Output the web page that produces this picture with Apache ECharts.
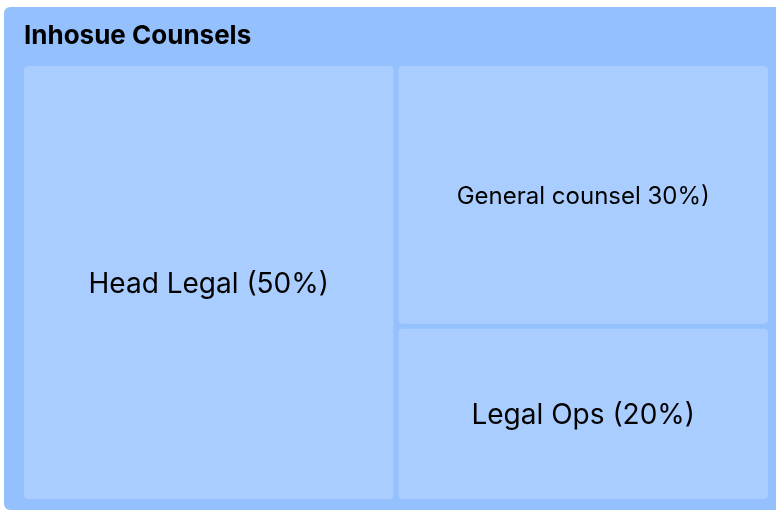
<!DOCTYPE html>
<html>
<head>
<meta charset="utf-8">
<script src="https://cdn.jsdelivr.net/npm/echarts@6/dist/echarts.min.js"></script>
<style>
  html, body { margin: 0; padding: 0; background: #fff; }
  #main { width: 776px; height: 512px; }
</style>
</head>
<body>
<div id="main"></div>
<script>
var groupName = 'Inhosue Counsels';
var roles = ['Head Legal (50%)', 'General counsel 30%)', 'Legal Ops (20%)'];
var shares = [50, 30, 20];
var labelSizes = [28, 24, 28];

var myChart = echarts.init(document.getElementById('main'));

var data = roles.map(function (r, i) {
    return {
        name: r,
        value: shares[i],
        itemStyle: { color: '#a9cdfe' },
        label: { fontSize: labelSizes[i] }
    };
});

var option = {
    backgroundColor: '#ffffff',
    color: ['#a9cdfe'],
    title: {
        text: groupName,
        left: 24,
        top: 23,
        padding: 0,
        textStyle: {
            fontFamily: 'Inter',
            fontSize: 26,
            fontWeight: 'bold',
            color: '#000000'
        }
    },
    graphic: [
        {
            type: 'rect',
            z: -10,
            shape: { x: 4, y: 7, width: 800, height: 503, r: 6 },
            style: { fill: '#94c1fd' }
        }
    ],
    series: [
        {
            type: 'treemap',
            left: 24,
            top: 66,
            width: 744,
            height: 433,
            roam: false,
            nodeClick: false,
            squareRatio: 1,
            breadcrumb: { show: false },
            itemStyle: {
                borderColor: '#94c1fd',
                borderWidth: 0,
                gapWidth: 5,
                borderRadius: 4
            },
            label: {
                show: true,
                position: 'inside',
                align: 'center',
                verticalAlign: 'middle',
                overflow: 'none',
                offset: [0, 2],
                fontFamily: 'Inter',
                color: '#000000',
                formatter: '{b}'
            },
            emphasis: { disabled: true },
            data: data
        }
    ]
};

myChart.setOption(option);
</script>
</body>
</html>
